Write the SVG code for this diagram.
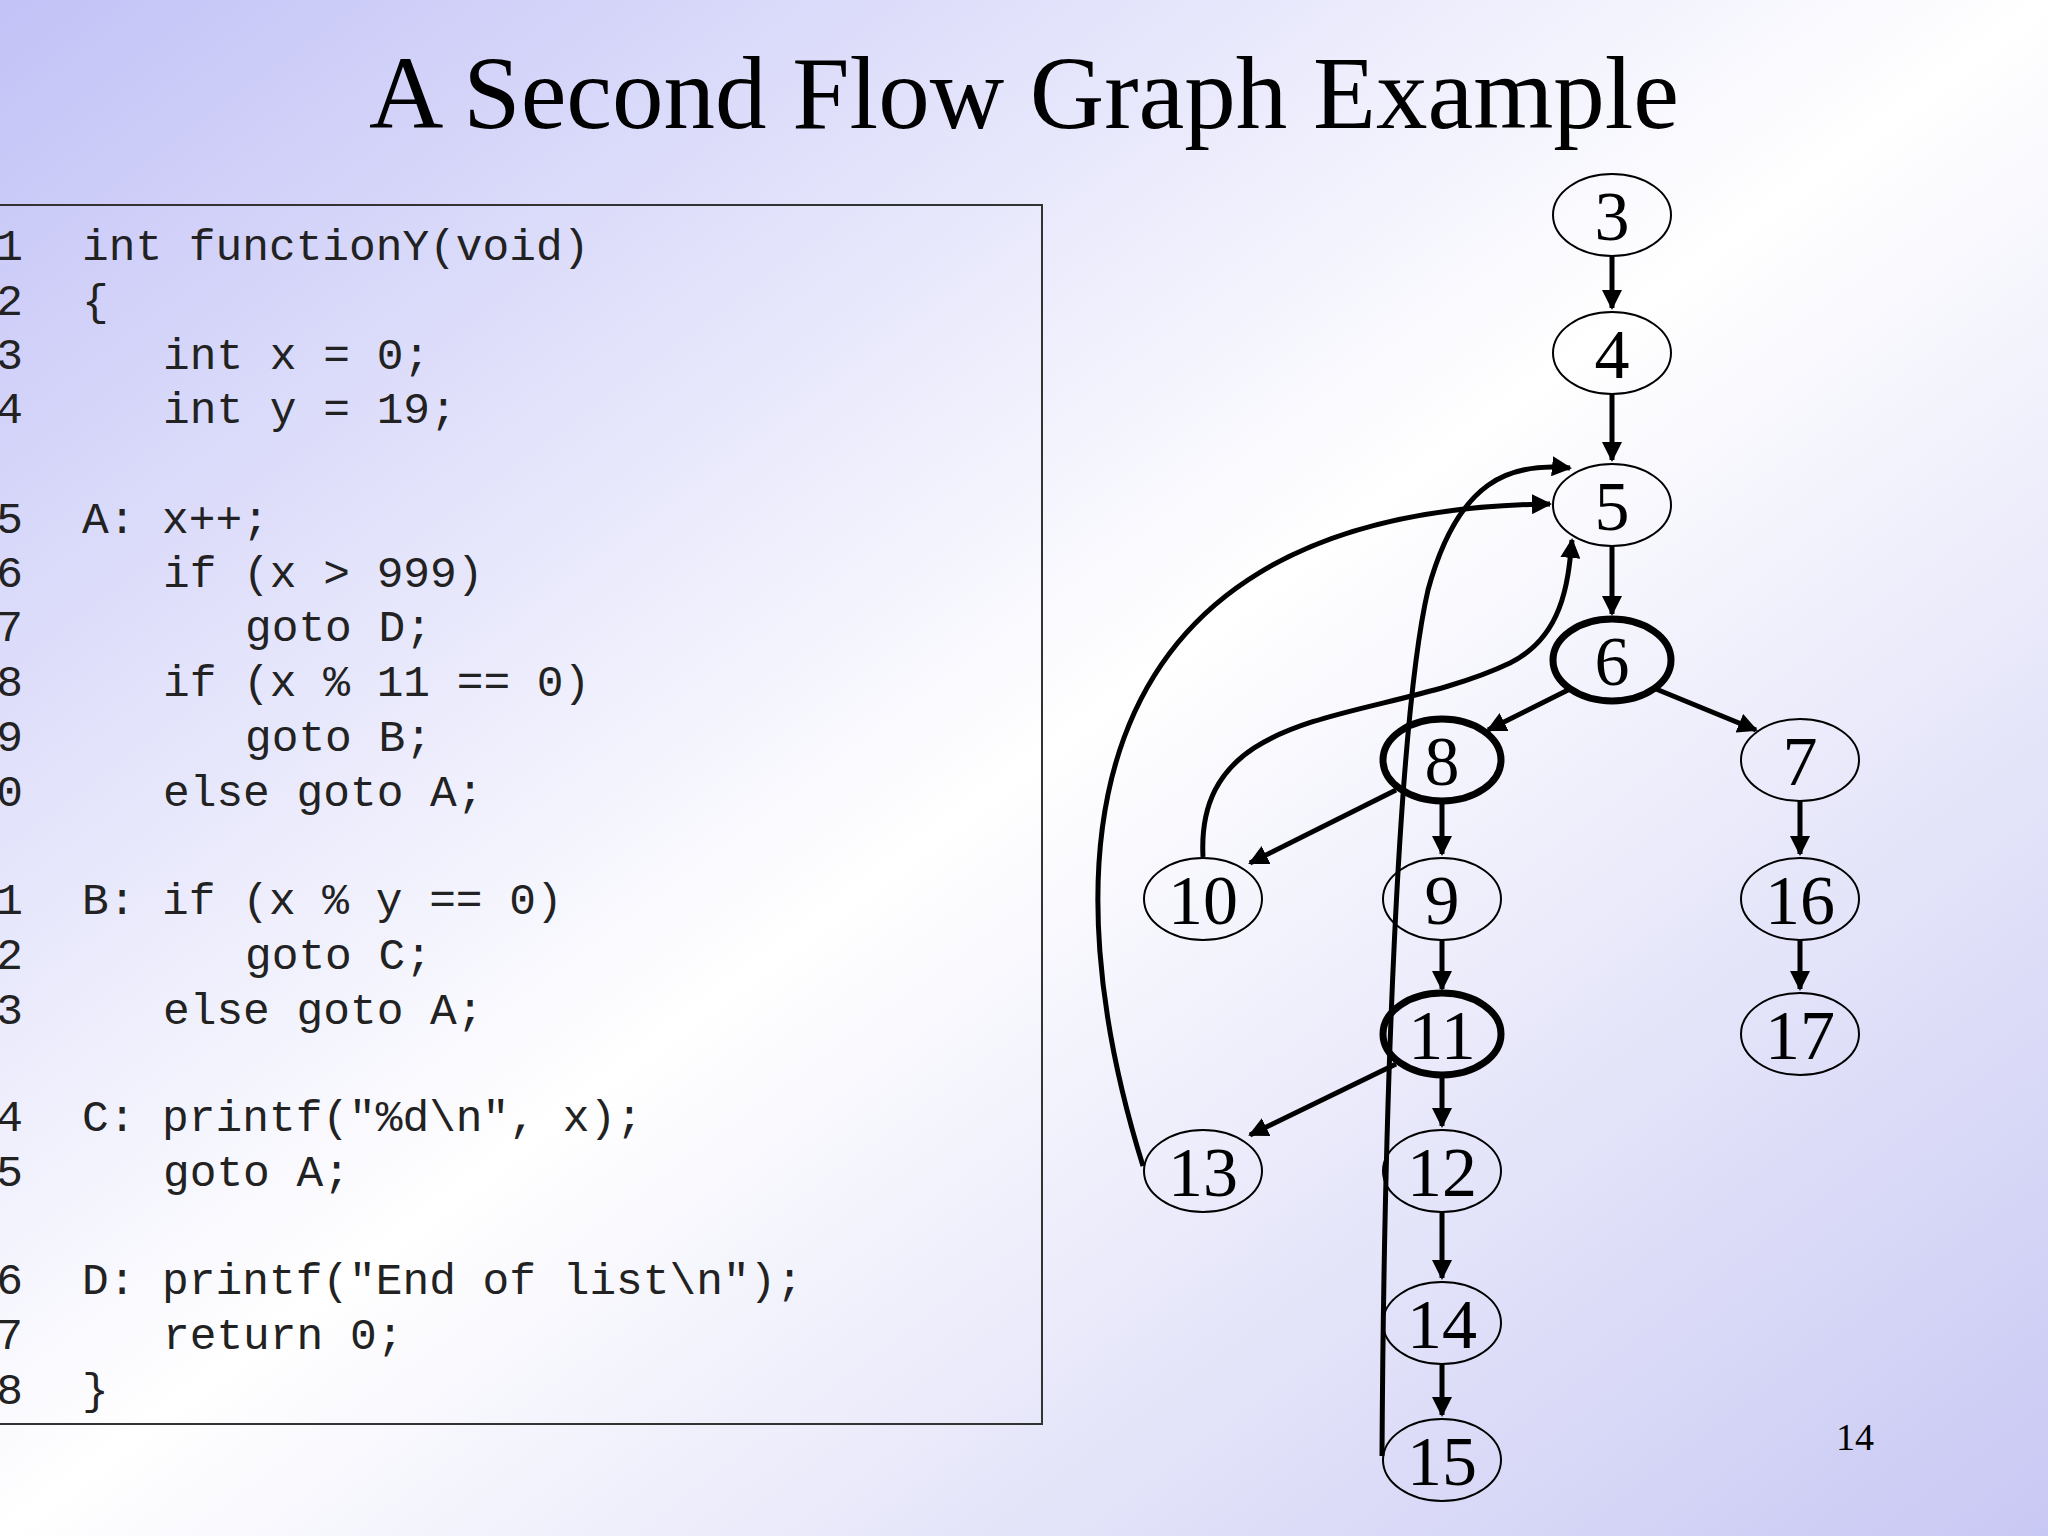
<svg xmlns="http://www.w3.org/2000/svg" width="2048" height="1536" viewBox="0 0 2048 1536">
<defs>
<linearGradient id="bg" x1="0" y1="0" x2="1" y2="1">
<stop offset="0" stop-color="#c2c2f7"/>
<stop offset="0.5" stop-color="#ffffff"/>
<stop offset="1" stop-color="#c8c8f4"/>
</linearGradient>
<marker id="ah" viewBox="0 0 10 10" refX="9" refY="5" markerWidth="4" markerHeight="4" orient="auto-start-reverse" markerUnits="strokeWidth">
<path d="M0,0 L10,5 L0,10 z" fill="#000"/>
</marker>
<style>
.code{font-family:"Liberation Mono",monospace;font-size:44.5px;fill:#222}
.num{text-anchor:end}
.node ellipse{fill:none;stroke:#000;stroke-width:2}
.node.thick ellipse{stroke-width:7}
.node text{font-family:"Liberation Serif",serif;font-size:70px;text-anchor:middle;fill:#000}
.edge{fill:none;stroke:#000;stroke-width:5;marker-end:url(#ah)}
</style>
</defs>
<rect width="2048" height="1536" fill="url(#bg)"/>
<text x="1024" y="128" font-family="Liberation Serif, serif" font-size="103" text-anchor="middle">A Second Flow Graph Example</text>
<rect x="-10" y="205" width="1052" height="1219" fill="none" stroke="#333" stroke-width="2"/>
<g class="code">
<text class="num" x="23" y="260">1</text><text x="82" y="260">int functionY(void)</text>
<text class="num" x="23" y="315">2</text><text x="82" y="315">{</text>
<text class="num" x="23" y="369">3</text><text x="163" y="369">int x = 0;</text>
<text class="num" x="23" y="423">4</text><text x="163" y="423">int y = 19;</text>
<text class="num" x="23" y="533">5</text><text x="82" y="533">A: x++;</text>
<text class="num" x="23" y="587">6</text><text x="163" y="587">if (x &gt; 999)</text>
<text class="num" x="23" y="641">7</text><text x="245" y="641">goto D;</text>
<text class="num" x="23" y="696">8</text><text x="163" y="696">if (x % 11 == 0)</text>
<text class="num" x="23" y="751">9</text><text x="245" y="751">goto B;</text>
<text class="num" x="23" y="806">10</text><text x="163" y="806">else goto A;</text>
<text class="num" x="23" y="914">11</text><text x="82" y="914">B: if (x % y == 0)</text>
<text class="num" x="23" y="969">12</text><text x="245" y="969">goto C;</text>
<text class="num" x="23" y="1024">13</text><text x="163" y="1024">else goto A;</text>
<text class="num" x="23" y="1131">14</text><text x="82" y="1131">C: printf("%d\n", x);</text>
<text class="num" x="23" y="1186">15</text><text x="163" y="1186">goto A;</text>
<text class="num" x="23" y="1294">16</text><text x="82" y="1294">D: printf("End of list\n");</text>
<text class="num" x="23" y="1349">17</text><text x="163" y="1349">return 0;</text>
<text class="num" x="23" y="1404">18</text><text x="82" y="1404">}</text>
</g>
<g id="connectors">
<line class="edge" x1="1612" y1="256" x2="1612" y2="308"/>
<line class="edge" x1="1612" y1="394" x2="1612" y2="460"/>
<line class="edge" x1="1612" y1="546" x2="1612" y2="614"/>
<line class="edge" x1="1570" y1="689" x2="1488" y2="730"/>
<line class="edge" x1="1656" y1="689" x2="1756" y2="730"/>
<line class="edge" x1="1396" y1="790" x2="1250" y2="863"/>
<line class="edge" x1="1442" y1="801" x2="1442" y2="854"/>
<line class="edge" x1="1442" y1="940" x2="1442" y2="989"/>
<line class="edge" x1="1800" y1="801" x2="1800" y2="854"/>
<line class="edge" x1="1800" y1="940" x2="1800" y2="989"/>
<line class="edge" x1="1396" y1="1064" x2="1250" y2="1135"/>
<line class="edge" x1="1442" y1="1075" x2="1442" y2="1126"/>
<line class="edge" x1="1442" y1="1212" x2="1442" y2="1278"/>
<line class="edge" x1="1442" y1="1364" x2="1442" y2="1415"/>
<path class="edge" d="M1203,857 C1195,700 1380,725 1510,663 C1562,637 1568,585 1572,540"/>
<path class="edge" d="M1143,1166 C1060,900 1040,510 1550,504"/>
<path class="edge" d="M1382,1456 C1384,1100 1398,720 1428,590 C1458,480 1510,462 1570,468"/>
</g>
<g id="n3" class="node"><ellipse cx="1612" cy="215" rx="59" ry="41"/><text x="1612" y="240">3</text></g>
<g id="n4" class="node"><ellipse cx="1612" cy="353" rx="59" ry="41"/><text x="1612" y="378">4</text></g>
<g id="n5" class="node"><ellipse cx="1612" cy="505" rx="59" ry="41"/><text x="1612" y="530">5</text></g>
<g id="n6" class="node thick"><ellipse cx="1612" cy="660" rx="59" ry="41"/><text x="1612" y="685">6</text></g>
<g id="n8" class="node thick"><ellipse cx="1442" cy="760" rx="59" ry="41"/><text x="1442" y="785">8</text></g>
<g id="n7" class="node"><ellipse cx="1800" cy="760" rx="59" ry="41"/><text x="1800" y="785">7</text></g>
<g id="n10" class="node"><ellipse cx="1203" cy="899" rx="59" ry="41"/><text x="1203" y="924">10</text></g>
<g id="n9" class="node"><ellipse cx="1442" cy="899" rx="59" ry="41"/><text x="1442" y="924">9</text></g>
<g id="n16" class="node"><ellipse cx="1800" cy="899" rx="59" ry="41"/><text x="1800" y="924">16</text></g>
<g id="n11" class="node thick"><ellipse cx="1442" cy="1034" rx="59" ry="41"/><text x="1442" y="1059">11</text></g>
<g id="n17" class="node"><ellipse cx="1800" cy="1034" rx="59" ry="41"/><text x="1800" y="1059">17</text></g>
<g id="n13" class="node"><ellipse cx="1203" cy="1171" rx="59" ry="41"/><text x="1203" y="1196">13</text></g>
<g id="n12" class="node"><ellipse cx="1442" cy="1171" rx="59" ry="41"/><text x="1442" y="1196">12</text></g>
<g id="n14" class="node"><ellipse cx="1442" cy="1323" rx="59" ry="41"/><text x="1442" y="1348">14</text></g>
<g id="n15" class="node"><ellipse cx="1442" cy="1460" rx="59" ry="41"/><text x="1442" y="1485">15</text></g>
<text x="1855" y="1450" font-family="Liberation Serif, serif" font-size="38" text-anchor="middle">14</text>
</svg>
